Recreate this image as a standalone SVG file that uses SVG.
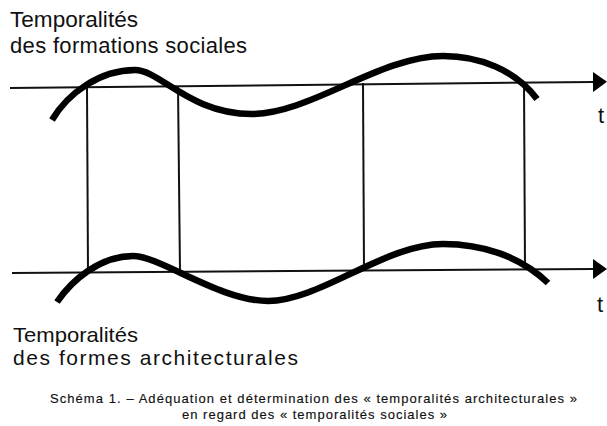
<svg xmlns="http://www.w3.org/2000/svg" width="607" height="426" viewBox="0 0 607 426">
  <style>
    .lbl { font-family: "Liberation Sans", Arial, sans-serif; font-size: 22px; fill: #111; }
    .lbl2 { font-family: "Liberation Sans", Arial, sans-serif; font-size: 21px; fill: #111; }
    .cap { font-family: "Liberation Sans", Arial, sans-serif; font-size: 13px; fill: #111; stroke: #111; stroke-width: 0.15; }
    .axis { stroke: #111; stroke-width: 2; fill: none; }
    .wave { stroke: #000; stroke-width: 6.5; fill: none; stroke-linecap: butt; }
    .vline { stroke: #111; stroke-width: 2; fill: none; }
  </style>
  <defs>
    <marker id="arrow" viewBox="0 0 14 20" refX="0" refY="10" markerWidth="14" markerHeight="20" markerUnits="userSpaceOnUse" orient="auto">
      <path d="M0,0 L14,10 L0,20 z" fill="#000"/>
    </marker>
  </defs>
  <rect width="607" height="426" fill="#fff"/>

  <g id="label-social">
    <text class="lbl" x="10" y="27" textLength="128" lengthAdjust="spacingAndGlyphs">Temporalités</text>
    <text class="lbl" x="10" y="53" textLength="237" lengthAdjust="spacing">des formations sociales</text>
  </g>

  <g id="label-archi">
    <text class="lbl2" x="13" y="342" textLength="125" lengthAdjust="spacingAndGlyphs">Temporalités</text>
    <text class="lbl2" x="13" y="365" textLength="285" lengthAdjust="spacing">des formes architecturales</text>
  </g>

  <g id="axis-social">
    <line class="axis" x1="10" y1="88" x2="593" y2="82" marker-end="url(#arrow)"/>
    <text class="lbl" x="598" y="123">t</text>
  </g>

  <g id="axis-archi">
    <line class="axis" x1="12" y1="273" x2="593" y2="269" marker-end="url(#arrow)"/>
    <text class="lbl" x="597" y="312">t</text>
  </g>

  <g id="connectors">
    <line class="vline" x1="87" y1="87" x2="88" y2="273"/>
    <line class="vline" x1="178" y1="86" x2="180" y2="272"/>
    <line class="vline" x1="363" y1="83" x2="364" y2="270"/>
    <line class="vline" x1="524" y1="82" x2="525" y2="268"/>
  </g>

  <g id="wave-social">
    <path class="wave" d="M52,120 C68,93 100,70 135,70 C160,70 190,114 252,114 C310,114 380,56 443,56 C480,56 515,70 537,99"/>
  </g>

  <g id="wave-archi">
    <path class="wave" d="M57,302 C72,280 100,256 133,256 C160,256 220,301 268,301 C320,301 385,244 443,244 C482,244 520,256 548,283"/>
  </g>

  <g id="caption">
    <text class="cap" x="50" y="403" textLength="527" lengthAdjust="spacing">Schéma 1. – Adéquation et détermination des « temporalités architecturales »</text>
    <text class="cap" x="182" y="419" textLength="265" lengthAdjust="spacing">en regard des « temporalités sociales »</text>
  </g>
</svg>
